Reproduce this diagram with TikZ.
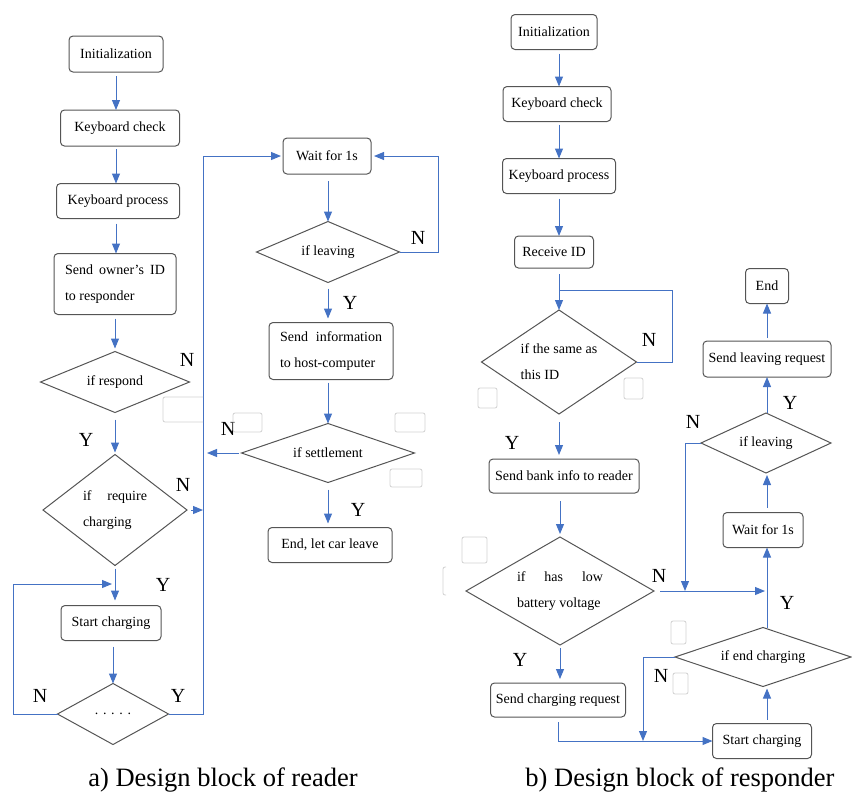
\documentclass[tikz,border=0pt]{standalone}
\usepackage{fontspec}
\setmainfont{Liberation Serif}
\usetikzlibrary{arrows.meta,shapes.geometric,calc}
\definecolor{arrblue}{RGB}{68,114,196}
\definecolor{boxgray}{RGB}{85,85,85}
\begin{document}
\begin{tikzpicture}[x=1pt,y=-1pt]
\tikzset{
 box/.style={draw=boxgray, line width=1pt, rounded corners=4pt, font=\fontsize{14}{26}\selectfont, inner sep=2pt, outer sep=0pt},
 dia/.style={diamond, draw=boxgray, line width=1pt, inner sep=0pt, outer sep=0pt, font=\fontsize{14}{26}\selectfont, aspect=3},
 arr/.style={draw=arrblue, line width=1pt, -{Triangle[length=10pt,width=8pt]}},
 ln/.style={draw=arrblue, line width=1pt},
 yn/.style={font=\fontsize{20}{20}\selectfont, inner sep=0pt},
 capt/.style={font=\fontsize{26.5}{30}\selectfont, inner sep=0pt},
 ghost/.style={draw=black!18, line width=0.8pt, rounded corners=2pt},
}
\useasboundingbox (0,0) rectangle (852,796);

% ---------------- (a) reader ----------------
\node[box, minimum width=94pt, minimum height=36pt] (a1) at (116,54) {Initialization};
\node[box, minimum width=119pt, minimum height=36pt] (a2) at (120,128) {Keyboard check};
\node[box, minimum width=123pt, minimum height=35pt] (a3) at (118,201) {Keyboard process};
\node[box, minimum width=122pt, minimum height=61pt, align=left] (a4) at (115,284) {\makebox[100pt][s]{Send owner’s ID}\\to responder};
\node[dia, minimum width=149pt, minimum height=61pt] (d1) at (115,382) {if respond};
\node[dia, aspect=1.5, minimum width=144pt, minimum height=111pt, align=left] (d2) at (115,510) {\makebox[64pt][s]{if require}\\charging};
\node[box, minimum width=100pt, minimum height=35pt] (a5) at (111,623) {Start charging};
\node[dia, minimum width=111pt, minimum height=61pt] (d3) at (113,714) {. . . . .};

\node[box, minimum width=88pt, minimum height=36pt] (b1) at (327,156) {Wait for 1s};
\node[dia, minimum width=143pt, minimum height=61pt] (d4) at (328,252) {if leaving};
\node[box, minimum width=124pt, minimum height=57pt, align=left] (b2) at (331,351) {\makebox[102pt][s]{Send information}\\to host-computer};
\node[dia, minimum width=173pt, minimum height=59pt] (d5) at (328,453) {if settlement};
\node[box, minimum width=124pt, minimum height=35pt] (b3) at (330,545) {End, let car leave};

\coordinate (xa) at (116,0);
\coordinate (vr) at (203,0);
\coordinate (lp) at (13,584);
\coordinate (rl) at (438,0);
\coordinate (xc) at (328,0);

\draw[arr, shorten <=4pt] (xa |- a1.south) -- (xa |- a2.north);
\draw[arr, shorten <=3pt] (xa |- a2.south) -- (xa |- a3.north);
\draw[arr, shorten <=5pt] (xa |- a3.south) -- (xa |- a4.north);
\draw[arr, shorten <=4pt, shorten >=3pt] (d1.north |- a4.south) -- (d1.north);
\draw[arr, shorten <=7pt, shorten >=2pt] (d1.south) -- (d2.north);
\draw[arr, shorten <=3pt, shorten >=5pt] (d2.south) -- (d2.south |- a5.north);
\draw[arr, shorten >=3pt] (d3.west) -| (lp) -- (lp -| d2.south);
\draw[arr, shorten <=6pt] (d3.north |- a5.south) -- (d3.north);
\draw[arr, shorten >=2pt] (d3.east) -- (vr |- d3.east) -- (vr |- b1.west) -- (b1.west);
\draw[arr, shorten <=4pt] (d2.east) -- (vr |- d2.east);
\draw[arr, shorten <=3pt, shorten >=4pt] (d5.west) -- (vr |- d5.west);

\draw[arr, shorten <=7pt] (xc |- b1.south) -- (d4.north);
\draw[arr, shorten <=6pt, shorten >=4pt] (d4.south) -- (xc |- b2.north);
\draw[arr, shorten <=3pt] (xc |- b2.south) -- (d5.north);
\draw[arr, shorten <=7pt, shorten >=4pt] (d5.south) -- (xc |- b3.north);
\draw[arr, shorten >=3pt] (d4.east) -- (rl |- d4.east) -- (rl |- b1.east) -- (b1.east);

\node[yn] (la1) at (187,360) {N};
\node[yn] (la2) at (86,440) {Y};
\node[yn] (la3) at (183,485) {N};
\node[yn] (la4) at (163,585) {Y};
\node[yn] (la5) at (40,696) {N};
\node[yn] (la6) at (178,696) {Y};
\node[yn] (la7) at (418,238) {N};
\node[yn] (la8) at (350,303) {Y};
\node[yn] (la9) at (228,429) {N};
\node[yn] (la10) at (358,510) {Y};

% ---------------- (b) responder ----------------
\node[box, minimum width=86pt, minimum height=35pt] (c1) at (554,32) {Initialization};
\node[box, minimum width=108pt, minimum height=35pt] (c2) at (557,104) {Keyboard check};
\node[box, minimum width=113pt, minimum height=35pt] (c3) at (559,176) {Keyboard process};
\node[box, minimum width=79pt, minimum height=32pt] (c4) at (554,252) {Receive ID};
\node[dia, aspect=1.6, minimum width=155pt, minimum height=104pt, align=left] (e1) at (559,362) {if the same as\\this ID};
\node[box, minimum width=150pt, minimum height=34pt] (c5) at (564,476) {Send bank info to reader};
\node[dia, aspect=2, minimum width=188pt, minimum height=108pt, align=left] (e2) at (560,591) {\makebox[86pt][s]{if has low}\\battery voltage};
\node[box, minimum width=135pt, minimum height=34pt] (c6) at (558,700) {Send charging request};
\node[box, minimum width=99pt, minimum height=35pt] (c7) at (762,741) {Start charging};
\node[dia, minimum width=176pt, minimum height=59pt] (e3) at (763,657) {if end charging};
\node[box, minimum width=80pt, minimum height=35pt] (c8) at (763,530) {Wait for 1s};
\node[dia, minimum width=130pt, minimum height=60pt] (e4) at (766,443) {if leaving};
\node[box, minimum width=128pt, minimum height=36pt] (c9) at (767,359) {Send leaving request};
\node[box, minimum width=43pt, minimum height=35pt] (c10) at (767,286) {End};

\coordinate (xB) at (559,0);
\coordinate (lr) at (672,290);
\coordinate (xn) at (643,0);
\coordinate (xR) at (767,0);
\coordinate (xl) at (685,0);

\draw[arr, shorten <=4pt] (xB |- c1.south) -- (xB |- c2.north);
\draw[arr, shorten <=3pt] (xB |- c2.south) -- (xB |- c3.north);
\draw[arr, shorten <=5pt] (xB |- c3.south) -- (xB |- c4.north);
\draw[arr, shorten <=6pt] (xB |- c4.south) -- (e1.north);
\draw[ln] (e1.east) -| (lr) -- (xB |- lr);
\draw[arr, shorten <=8pt, shorten >=4pt] (e1.south) -- (e1.south |- c5.north);
\draw[arr, shorten <=8pt, shorten >=3pt] (e2.north |- c5.south) -- (e2.north);
\draw[arr, shorten <=3pt, shorten >=4pt] (e2.south) -- (e2.south |- c6.north);
\draw[arr, shorten <=5pt] (c6.south) |- (c7.west);
\draw[arr] (e3.west) -| (xn |- c7.west);
\draw[arr, shorten <=4pt, shorten >=2pt] (xR |- c7.north) -- (xR |- e3.south);
\draw[arr] (xR |- e3.north) -- (xR |- c8.south);
\draw[arr, shorten <=6pt, shorten >=2pt] (e2.east) -- (xR |- e2.east);
\draw[arr, shorten <=5pt, shorten >=2pt] (xR |- c8.north) -- (xR |- e4.south);
\draw[arr] (e4.west) -| (xl |- e2.east);
\draw[arr] (xR |- e4.north) -- (xR |- c9.south);
\draw[arr, shorten <=3pt] (xR |- c9.north) -- (xR |- c10.south);

\node[yn] (lb1) at (649,340) {N};
\node[yn] (lb2) at (512,443) {Y};
\node[yn] (lb3) at (659,576) {N};
\node[yn] (lb4) at (520,660) {Y};
\node[yn] (lb5) at (661,676) {N};
\node[yn] (lb6) at (787,603) {Y};
\node[yn] (lb7) at (790,403) {Y};
\node[yn] (lb8) at (693,422) {N};

% faint leftover frames
\draw[ghost] (203,397) -- (163,397) -- (163,422) -- (203,422);
\draw[ghost] (233,413) rectangle (262,432);
\draw[ghost] (395,413) rectangle (425,432);
\draw[ghost] (390,469) rectangle (422,487);
\draw[ghost] (478,388) rectangle (497,408);
\draw[ghost] (624,378) rectangle (643,399);
\draw[ghost] (462,537) rectangle (487,563);
\draw[ghost] (446,567) -- (443,567) -- (443,595) -- (446,595);
\draw[ghost] (671,621) rectangle (686,644);
\draw[ghost] (673,673) rectangle (688,694);

% captions
\node[capt] (capa) at (223,780) {a) Design block of reader};
\node[capt] (capb) at (680,780) {b) Design block of responder};
\end{tikzpicture}
\end{document}
